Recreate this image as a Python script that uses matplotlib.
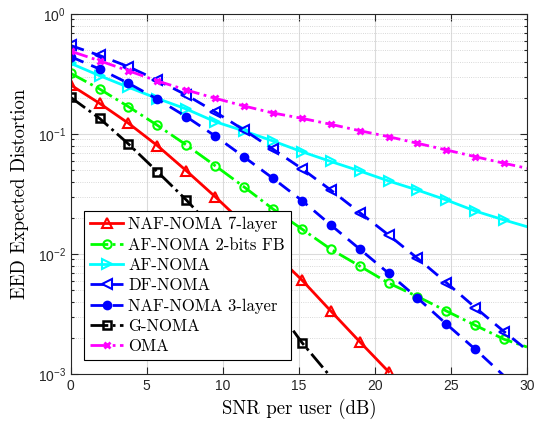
import numpy as np
import matplotlib
matplotlib.use("Agg")
import matplotlib.pyplot as plt
from matplotlib.ticker import FuncFormatter, LogLocator, NullFormatter

plt.rcParams['font.family'] = ['Liberation Sans', 'DejaVu Sans']
plt.rcParams['axes.unicode_minus'] = False

# SNR points (dB), markers every 1.9 dB, curves run on to 30
snr = [0, 1.9, 3.8, 5.7, 7.6, 9.5, 11.4, 13.3, 15.2, 17.1, 19.0, 20.9,
       22.8, 24.7, 26.6, 28.5, 30]

naf7 = [0.256, 0.180, 0.1228, 0.0799, 0.0494, 0.0300, 0.0178, 0.01039,
        0.00607, 0.00335, 0.00186, 0.001045]
af_fb = [0.3205, 0.2371, 0.1688, 0.1181, 0.0810, 0.0544, 0.0362, 0.0237,
         0.01615, 0.01096, 0.00794, 0.00573, 0.00442, 0.00335, 0.002545,
         0.001946, 0.001679]
af = [0.388, 0.306, 0.245, 0.1976, 0.1615, 0.1266, 0.1059, 0.0874, 0.0712,
      0.0590, 0.0492, 0.0406, 0.0341, 0.0282, 0.0228, 0.0192, 0.01689]
df = [0.5464, 0.4510, 0.3637, 0.2803, 0.2113, 0.1526, 0.1079, 0.0747,
      0.0514, 0.0341, 0.02217, 0.01440, 0.00921, 0.00577, 0.00358,
      0.002252, 0.001585]
naf3 = [0.4406, 0.3480, 0.2646, 0.1950, 0.1394, 0.0962, 0.0643, 0.0427,
        0.0279, 0.01745, 0.0110, 0.00691, 0.00430, 0.00261, 0.001606,
        0.000962]
gnoma = [0.202, 0.135, 0.0825, 0.0485, 0.0282, 0.01556, 0.00794, 0.00391,
         0.00183, 0.000944]
oma = [0.4898, 0.4074, 0.3363, 0.2765, 0.2326, 0.1984, 0.1711, 0.1496,
       0.1351, 0.1204, 0.1065, 0.0950, 0.0837, 0.0736, 0.0647, 0.0570,
       0.0518]

labels = ['NAF-NOMA 7-layer', 'AF-NOMA 2-bits FB', 'AF-NOMA', 'DF-NOMA',
          'NAF-NOMA 3-layer', 'G-NOMA', 'OMA']

fig = plt.figure(figsize=(5.34, 4.24), dpi=100)
ax = fig.add_axes([0.1324, 0.1179, 0.8545, 0.8491])

lw = 2.0
ms = 6.5
mew = 1.5

def draw(y, color, ls, marker, label, mfc='none', size=ms, ew=mew):
    # only mark points that fall inside the y range
    mk = [i for i in range(min(len(y), 16)) if y[i] >= 1e-3]
    ax.plot(snr[:len(y)], y, color=color, ls=ls, lw=lw, marker=marker,
            markersize=size, mew=ew, mfc=mfc, markevery=mk, label=label)

draw(naf7, 'red', '-', '^', labels[0])
draw(af_fb, (0, 1, 0), '-.', 'o', labels[1], size=6)
draw(af, 'cyan', '-', '>', labels[2])
draw(df, 'blue', (0, (5, 3)), '<', labels[3])
draw(naf3, 'blue', (0, (5, 3)), 'o', labels[4], mfc='blue', size=5.5)
draw(gnoma, 'black', '-.', 's', labels[5], size=5.8, ew=1.8)
draw(oma, 'magenta', '-.', 'x', labels[6], size=5, ew=2)

ax.set_yscale('log')
ax.set_xlim(0, 30)
ax.set_ylim(1e-3, 1)
ax.set_xticks([0, 5, 10, 15, 20, 25, 30])
ax.yaxis.set_major_locator(LogLocator(base=10, numticks=10))
ax.yaxis.set_minor_locator(LogLocator(base=10, subs=np.arange(2, 10), numticks=10))
ax.yaxis.set_minor_formatter(NullFormatter())
ax.yaxis.set_major_formatter(FuncFormatter(
    lambda v, p: r'$\mathregular{10^{%d}}$' % int(round(np.log10(v)))))

ax.grid(True, which='major', color=(0.86, 0.86, 0.86), lw=0.8, ls='-')
ax.grid(True, which='minor', axis='y', color=(0.8, 0.8, 0.8), lw=0.6, ls=':')
ax.set_axisbelow(True)
ax.tick_params(which='both', direction='in', top=True, right=True,
               colors=(0.15, 0.15, 0.15), labelsize=10, width=0.8)
ax.tick_params(which='major', length=5)
ax.tick_params(which='minor', length=2.5)
for s in ax.spines.values():
    s.set_color((0.15, 0.15, 0.15))
    s.set_linewidth(0.8)

ax.set_xlabel('SNR per user (dB)', fontfamily='cmr10', fontsize=13.5,
              labelpad=4)
ax.set_ylabel('EED Expected Distortion', fontfamily='cmr10', fontsize=13.5,
              labelpad=6)

leg = ax.legend(loc='lower left', bbox_to_anchor=(0.0298, 0.0389),
                borderaxespad=0, fancybox=False, framealpha=1,
                edgecolor='black', prop={'family': 'cmr10', 'size': 12},
                handlelength=2.0, handletextpad=0.3, labelspacing=0.3,
                borderpad=0.35)
leg.get_frame().set_linewidth(0.8)

fig.savefig('out.png', dpi=100)
